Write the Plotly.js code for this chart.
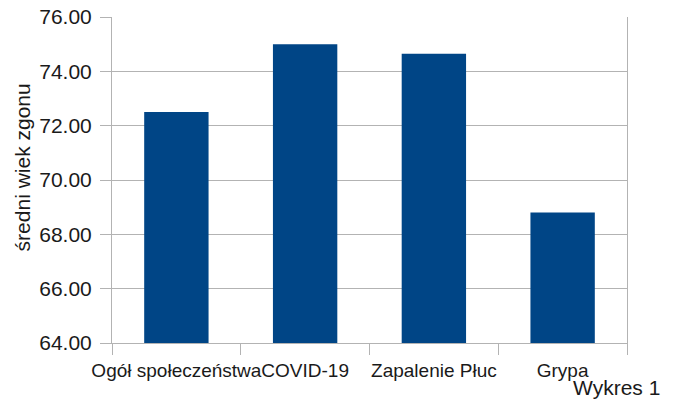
<!DOCTYPE html>
<html>
<head>
<meta charset="utf-8">
<script src="https://cdn.plot.ly/plotly-3.0.1.min.js"></script>
<style>html,body{margin:0;padding:0;background:#fff;}#chart{width:677px;height:405px;}</style>
</head>
<body>
<div id="chart"></div>
<script>
const categories = ["Ogół społeczeństwa", "COVID-19", "Zapalenie Płuc", "Grypa"];
const meanAge = [72.5, 75.0, 74.65, 68.8];
const yTicks = [64, 66, 68, 70, 72, 74, 76];
const yTitle = "średni wiek zgonu";
const caption = "Wykres 1";

const font = "Liberation Sans, Arial, sans-serif";
const grid = "#b3b3b3";

Plotly.newPlot("chart", [{
  type: "bar",
  x: categories,
  y: meanAge,
  marker: {color: "#004586", line: {width: 0}},
  hoverinfo: "x+y"
}], {
  width: 677, height: 405,
  margin: {l: 112, r: 50, t: 17, b: 62},
  paper_bgcolor: "#fff", plot_bgcolor: "#fff",
  bargap: 0.5,
  showlegend: false,
  font: {family: font, color: "#1a1a1a"},
  xaxis: {
    type: "category",
    tickson: "boundaries",
    ticks: "outside", ticklen: 11, tickcolor: grid, tickwidth: 1,
    showline: true, linecolor: grid, linewidth: 1,
    showgrid: false,
    tickangle: 0,
    tickfont: {size: 19, family: font, color: "#1a1a1a"},
    ticklabelstandoff: 10
  },
  yaxis: {
    range: [64, 76],
    tickvals: yTicks,
    tickformat: ".2f",
    ticks: "outside", ticklen: 11, tickcolor: grid, tickwidth: 1,
    showline: true, linecolor: grid, linewidth: 1, mirror: true,
    showgrid: true, gridcolor: grid, gridwidth: 1,
    zeroline: false,
    tickfont: {size: 21, family: font, color: "#1a1a1a"},
    ticklabelstandoff: 4
  },
  annotations: [
    {text: yTitle, xref: "paper", yref: "paper", x: -0.172, y: 0.54,
     xanchor: "center", yanchor: "middle", textangle: -90, showarrow: false,
     font: {size: 21, family: font, color: "#1a1a1a"}},
    {text: caption, xref: "paper", yref: "paper", x: 1.068, y: -0.095,
     xanchor: "right", yanchor: "top", showarrow: false,
     font: {size: 21, family: font, color: "#1a1a1a"}}
  ]
}, {displayModeBar: false, staticPlot: true});
</script>
</body>
</html>
